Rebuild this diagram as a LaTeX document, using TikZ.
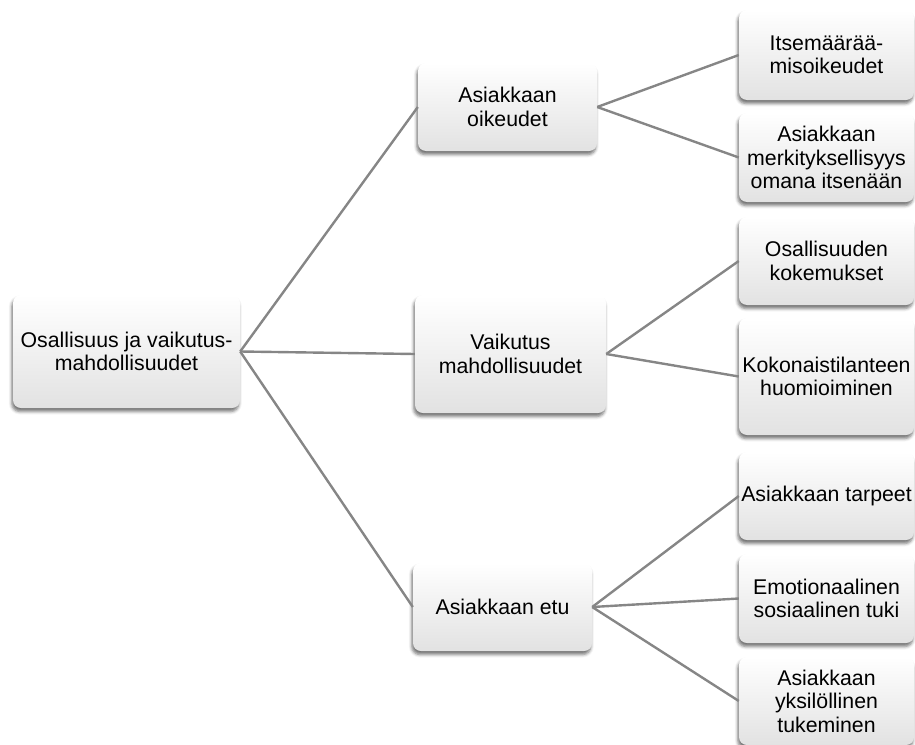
\documentclass[tikz,border=0pt]{standalone}
\usepackage{fontspec}
\setmainfont{Liberation Sans}
\usetikzlibrary{shadows.blur}
\definecolor{linegray}{RGB}{134,134,134}
\definecolor{boxbottom}{RGB}{226,226,226}
\tikzset{
  box/.style={rounded corners=8pt, top color=white, bottom color=boxbottom,
    draw=none, align=center, inner sep=0pt,
    font=\fontsize{21.3pt}{23.5pt}\selectfont,
    blur shadow={shadow xshift=-1.2pt, shadow yshift=-3.5pt, shadow blur radius=3pt, shadow opacity=55}},
  conn/.style={draw=linegray, line width=2.4pt}
}
\begin{document}
\begin{tikzpicture}[x=1pt,y=-1pt]
\clip (0,0) rectangle (915,744);
\useasboundingbox (0,0) rectangle (915,744);
\node[box, minimum width=227pt, minimum height=113pt] (root) at (126.5,351.5) {Osallisuus ja vaikutus-\\mahdollisuudet};
\node[box, minimum width=179pt, minimum height=88pt] (m1) at (507.5,107) {Asiakkaan\\oikeudet};
\node[box, minimum width=191pt, minimum height=118pt] (m2) at (510.5,354) {Vaikutus\\mahdollisuudet};
\node[box, minimum width=179pt, minimum height=88pt] (m3) at (502.5,607) {Asiakkaan etu};
\node[box, minimum width=175pt, minimum height=90pt] (r1) at (826.5,55) {Itsemäärää-\\misoikeudet};
\node[box, minimum width=175pt, minimum height=89pt] (r2) at (826.5,157.5) {Asiakkaan\\merkityksellisyys\\omana itsenään};
\node[box, minimum width=175pt, minimum height=88pt] (r3) at (826.5,261) {Osallisuuden\\kokemukset};
\node[box, minimum width=175pt, minimum height=117pt] (r4) at (826.5,376.5) {Kokonaistilanteen\\huomioiminen};
\node[box, minimum width=175pt, minimum height=88pt] (r5) at (826.5,496) {Asiakkaan tarpeet};
\node[box, minimum width=175pt, minimum height=89pt] (r6) at (826.5,598.5) {Emotionaalinen\\sosiaalinen tuki};
\node[box, minimum width=175pt, minimum height=88pt] (r7) at (826.5,701) {Asiakkaan\\yksilöllinen\\tukeminen};
\draw[conn] (root.east) -- (m1.west);
\draw[conn] (root.east) -- (m2.west);
\draw[conn] (root.east) -- (m3.west);
\draw[conn] (m1.east) -- (r1.west);
\draw[conn] (m1.east) -- (r2.west);
\draw[conn] (m2.east) -- (r3.west);
\draw[conn] (m2.east) -- (r4.west);
\draw[conn] (m3.east) -- (r5.west);
\draw[conn] (m3.east) -- (r6.west);
\draw[conn] (m3.east) -- (r7.west);
\end{tikzpicture}
\end{document}
